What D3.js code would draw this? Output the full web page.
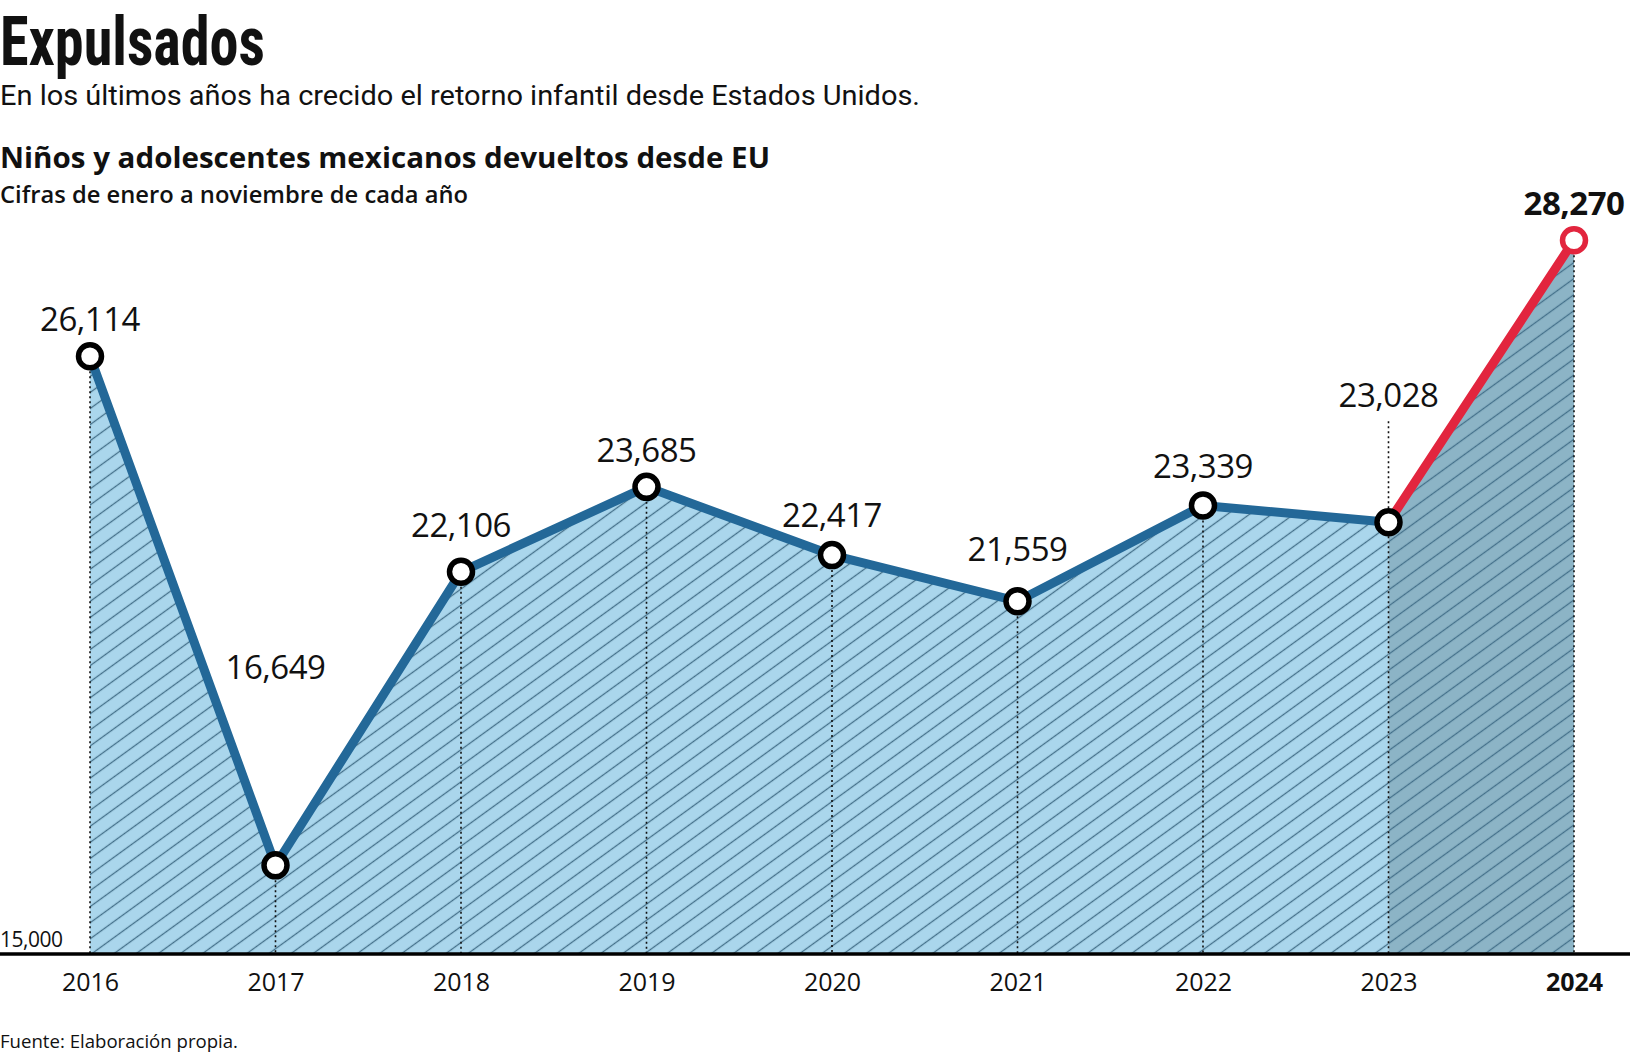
<!DOCTYPE html>
<html>
<head>
<meta charset="utf-8">
<script src="https://cdn.jsdelivr.net/npm/d3@7/dist/d3.min.js"></script>
<style>
  html, body { margin: 0; padding: 0; background: #ffffff; }
  svg { display: block; }
</style>
</head>
<body>
<svg id="chart" width="1630" height="1056"></svg>
<script>
// ---- data ----
const years = ["2016", "2017", "2018", "2019", "2020", "2021", "2022", "2023", "2024"];
const values = [26114, 16649, 22106, 23685, 22417, 21559, 23339, 23028, 28270];
const valueLabels = ["26,114", "16,649", "22,106", "23,685", "22,417", "21,559", "23,339", "23,028", "28,270"];
const baseTickLabel = "15,000";
const baseValue = 15000;

const titleText = "Expulsados";
const subtitleText = "En los últimos años ha crecido el retorno infantil desde Estados Unidos.";
const chartTitleText = "Niños y adolescentes mexicanos devueltos desde EU";
const chartSubText = "Cifras de enero a noviembre de cada año";
const sourceText = "Fuente: Elaboración propia.";

// ---- layout / style ----
const W = 1630, H = 1056;
const axisY = 954;
const lightFill = "#aad6ec", darkFill = "#8cb4c6", hatch = "#44708a";
const blue = "#236898", red = "#e2253e";
const numFont = "'Open Sans', 'Noto Sans', sans-serif";
// label lift above point (baseline offset), per year index
const lift = {0: 25, 1: 186, 2: 35, 3: 25, 4: 28, 5: 40, 6: 27, 7: 115, 8: 25};

const svg = d3.select("#chart");
svg.append("rect").attr("width", W).attr("height", H).attr("fill", "#fff");

const x = d3.scalePoint().domain(years).range([90, 1574]);
const y = d3.scaleLinear().domain([baseValue, 29000]).range([axisY, 201]);

const data = years.map((yr, i) => ({ yr, v: values[i], label: valueLabels[i], i }));

// hatch patterns
const defs = svg.append("defs");
function hatchPattern(id, bg) {
  const s = 13;
  const p = defs.append("pattern").attr("id", id)
    .attr("patternUnits", "userSpaceOnUse")
    .attr("width", 20).attr("height", s)
    .attr("patternTransform", "rotate(-36)");
  p.append("rect").attr("width", 20).attr("height", s).attr("fill", bg);
  p.append("line").attr("x1", 0).attr("x2", 20).attr("y1", s / 2).attr("y2", s / 2)
    .attr("stroke", hatch).attr("stroke-width", 1.3);
}
hatchPattern("hatchLight", lightFill);
hatchPattern("hatchDark", darkFill);

const area = d3.area().x(d => x(d.yr)).y0(y(baseValue)).y1(d => y(d.v));
const line = d3.line().x(d => x(d.yr)).y(d => y(d.v));

const first = data.slice(0, 8), last = data.slice(7, 9);

svg.append("path").datum(first).attr("d", area).attr("fill", "url(#hatchLight)");
svg.append("path").datum(last).attr("d", area).attr("fill", "url(#hatchDark)");

// dotted verticals
svg.append("g").selectAll("line").data(data).join("line")
  .attr("x1", d => x(d.yr)).attr("x2", d => x(d.yr))
  .attr("y1", d => d.i === 7 ? y(d.v) - lift[7] + 14 : y(d.v))
  .attr("y2", axisY)
  .attr("stroke", "#111").attr("stroke-width", 1.6)
  .attr("stroke-dasharray", "2,3");

// lines
svg.append("path").datum(first).attr("d", line)
  .attr("fill", "none").attr("stroke", blue).attr("stroke-width", 9)
  .attr("stroke-linejoin", "round");
svg.append("path").datum(last).attr("d", line)
  .attr("fill", "none").attr("stroke", red).attr("stroke-width", 9)
  .attr("stroke-linecap", "round");

// axis line
svg.append("line").attr("x1", 0).attr("x2", W).attr("y1", axisY).attr("y2", axisY)
  .attr("stroke", "#000").attr("stroke-width", 3.5);

// points
svg.append("g").selectAll("circle").data(data).join("circle")
  .attr("cx", d => x(d.yr)).attr("cy", d => y(d.v)).attr("r", 11.5)
  .attr("fill", "#fff")
  .attr("stroke", d => d.i === 8 ? red : "#000")
  .attr("stroke-width", 5.5);

// value labels
svg.append("g").selectAll("text").data(data).join("text")
  .attr("x", d => x(d.yr)).attr("y", d => y(d.v) - lift[d.i])
  .attr("text-anchor", "middle")
  .attr("font-family", numFont)
  .attr("font-size", 33)
  .attr("font-weight", d => d.i === 8 ? 700 : 400)
  .attr("fill", "#111")
  .attr("letter-spacing", -0.5)
  .text(d => d.label);

// x axis labels
const xAxis = d3.axisBottom(x).tickSize(0).tickPadding(0);
const gx = svg.append("g").attr("transform", `translate(0,${axisY})`).call(xAxis);
gx.select(".domain").remove();
gx.selectAll("text")
  .attr("y", 37).attr("dy", 0)
  .attr("font-family", numFont).attr("font-size", 25)
  .attr("fill", "#111")
  .attr("font-weight", d => d === "2024" ? 700 : 400);

// base value label
svg.append("text").attr("x", 0).attr("y", 947)
  .attr("font-family", numFont).attr("font-size", 21).attr("fill", "#111")
  .attr("letter-spacing", -0.5)
  .text(baseTickLabel);

// titles
svg.append("text").attr("x", 0).attr("y", 65)
  .attr("font-family", "'Roboto Condensed','Liberation Sans Narrow','Roboto',sans-serif")
  .attr("font-weight", 700).attr("font-size", 69).attr("fill", "#111")
  .attr("textLength", 265).attr("lengthAdjust", "spacingAndGlyphs")
  .text(titleText);

svg.append("text").attr("x", 0).attr("y", 105)
  .attr("font-family", "'Roboto','Open Sans',sans-serif")
  .attr("font-weight", 400).attr("font-size", 27.5).attr("fill", "#111")
  .attr("textLength", 920).attr("lengthAdjust", "spacingAndGlyphs")
  .text(subtitleText);

svg.append("text").attr("x", 0).attr("y", 168)
  .attr("font-family", numFont)
  .attr("font-weight", 700).attr("font-size", 29).attr("fill", "#111")
  .attr("textLength", 770).attr("lengthAdjust", "spacingAndGlyphs")
  .text(chartTitleText);

svg.append("text").attr("x", 0).attr("y", 203)
  .attr("font-family", numFont)
  .attr("font-weight", 600).attr("font-size", 24).attr("fill", "#111")
  .attr("textLength", 468).attr("lengthAdjust", "spacingAndGlyphs")
  .text(chartSubText);

// source
svg.append("text").attr("x", 0).attr("y", 1048)
  .attr("font-family", numFont)
  .attr("font-size", 18.5).attr("fill", "#111")
  .attr("textLength", 238).attr("lengthAdjust", "spacingAndGlyphs")
  .text(sourceText);
</script>
</body>
</html>
